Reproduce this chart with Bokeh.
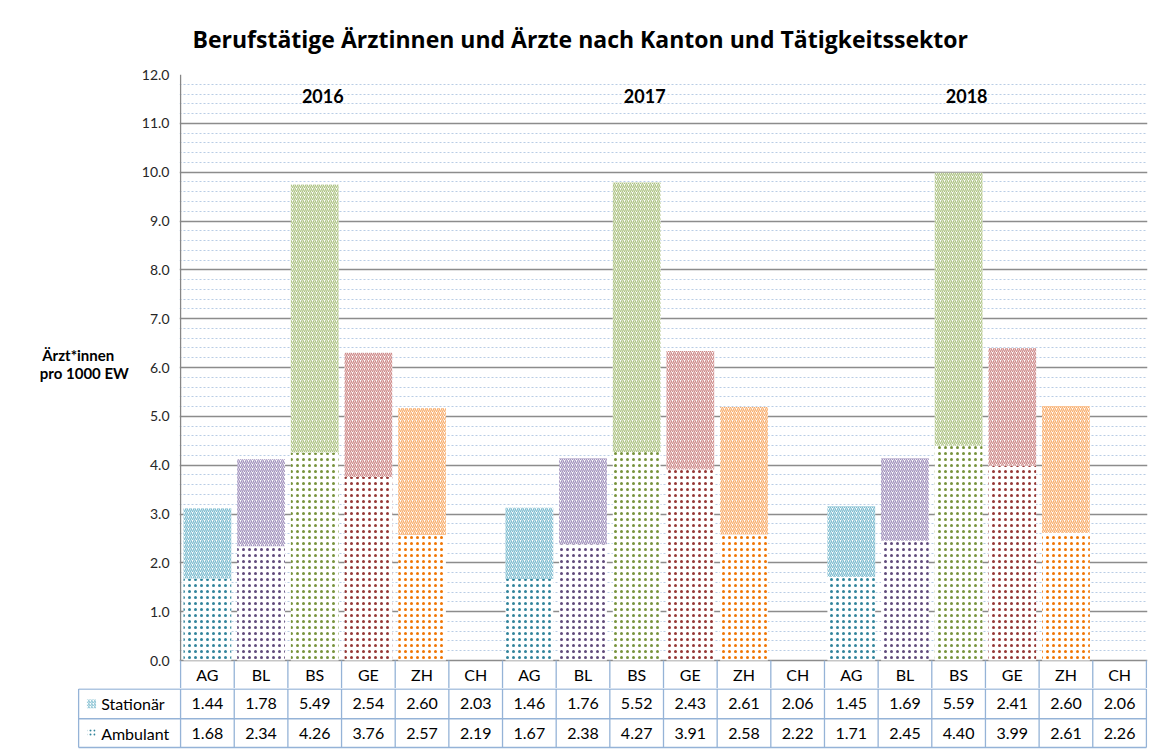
import numpy as np
from bokeh.plotting import figure
from bokeh.models import ColumnDataSource, Range1d, FixedTicker, NumeralTickFormatter
from bokeh.embed import file_html
from bokeh.resources import INLINE
from bokeh.core.properties import value

# ---------------- data ----------------
chart_title = "Berufstätige Ärztinnen und Ärzte nach Kanton und Tätigkeitssektor"
y_label_lines = ["Ärzt*innen", "pro 1000 EW"]
years = ["2016", "2017", "2018"]
cantons = ["AG", "BL", "BS", "GE", "ZH", "CH"]
series_names = ["Stationär", "Ambulant"]

stationaer_2016 = [1.44, 1.78, 5.49, 2.54, 2.60, 2.03]
stationaer_2017 = [1.46, 1.76, 5.52, 2.43, 2.61, 2.06]
stationaer_2018 = [1.45, 1.69, 5.59, 2.41, 2.60, 2.06]
ambulant_2016 = [1.68, 2.34, 4.26, 3.76, 2.57, 2.19]
ambulant_2017 = [1.67, 2.38, 4.27, 3.91, 2.58, 2.22]
ambulant_2018 = [1.71, 2.45, 4.40, 3.99, 2.61, 2.26]

y_ticks = list(range(0, 13))

# ---------------- styles ----------------
FONT = value("Lato")
dark_colors = ["#31849B", "#604A7B", "#77933C", "#953735", "#F07503", "#FFFFFF"]
light_colors = ["#7DBCCF", "#A293BD", "#AFC486", "#CE8A89", "#F8AE6E", "#FFFFFF"]
visible = [1, 1, 1, 1, 1, 0]
grid_blue = "#B9CDE5"
table_blue = "#95B3D7"
axis_gray = "#868686"

stationaer = [stationaer_2016, stationaer_2017, stationaer_2018]
ambulant = [ambulant_2016, ambulant_2017, ambulant_2018]

xs, amb, tot, dk, lt, al, sta, hdr = [], [], [], [], [], [], [], []
n_c = len(cantons)
for yi, yr in enumerate(years):
    for ci, c in enumerate(cantons):
        xs.append(yi * n_c + ci + 0.5)
        amb.append(ambulant[yi][ci])
        sta.append(stationaer[yi][ci])
        tot.append(ambulant[yi][ci] + stationaer[yi][ci])
        dk.append(dark_colors[ci])
        lt.append(light_colors[ci])
        al.append(visible[ci])
        hdr.append(c)
src = ColumnDataSource(dict(x=xs, amb=amb, tot=tot, sta=sta, dark=dk, light=lt, alpha=al))
n_cols = len(xs)

# ---------------- main chart (incl. header row of the data table) ----------------
W = 1154
hdr_depth = 0.573          # header row height below 0, in axis units
p = figure(width=W, height=688, x_range=Range1d(-0.02, n_cols + 0.02),
           y_range=Range1d(-hdr_depth, 12),
           x_axis_location=None, output_backend="svg", toolbar_location=None,
           min_border_left=179, min_border_right=7, min_border_top=74, min_border_bottom=0,
           outline_line_color=None, background_fill_color="white", border_fill_color="white")
p.title.text = chart_title
p.title.text_font = "Open Sans"
p.title.text_font_size = "23px"
p.title.text_font_style = "bold"
p.title.text_color = "black"
p.title.align = "left"
p.title.offset = 13
p.title.standoff = 40

p.xgrid.visible = False
minor = [round(i * 0.2, 1) for i in range(61) if i % 5 != 0]
p.yaxis.ticker = FixedTicker(ticks=y_ticks, minor_ticks=minor)
p.yaxis.formatter = NumeralTickFormatter(format="0.0")
p.yaxis.major_tick_out = 0
p.yaxis.major_tick_in = 0
p.yaxis.minor_tick_out = 0
p.yaxis.minor_tick_in = 0
p.yaxis.axis_line_color = None
p.yaxis.major_label_standoff = 10
p.yaxis.major_label_text_font = "Lato"
p.yaxis.major_label_text_font_size = "14px"
p.yaxis.major_label_text_color = "#262626"
# two centred lines; non-breaking spaces centre the shorter first line,
# the two blank lines lift the block to the reference position
p.yaxis.axis_label = (y_label_lines[0] + "\u00a0" * 4 + "\n" + y_label_lines[1]
                      + "\n\u00a0\n\u00a0")
p.yaxis.axis_label_orientation = "horizontal"
p.yaxis.axis_label_text_font = "Lato"
p.yaxis.axis_label_text_font_size = "15px"
p.yaxis.axis_label_text_font_style = "bold"
p.yaxis.axis_label_text_color = "black"
p.yaxis.axis_label_text_align = "center"
p.yaxis.axis_label_text_line_height = 1.0
p.yaxis.axis_label_standoff = 10
p.ygrid.grid_line_color = "#8C8C8C"
p.ygrid.grid_line_width = 1.6
p.ygrid.minor_grid_line_color = grid_blue
p.ygrid.minor_grid_line_width = 1
p.ygrid.minor_grid_line_dash = "2 2"

# y axis line
p.segment(x0=[0], y0=[0], x1=[0], y1=[12], line_color=axis_gray, line_width=1.3)

bar_w = 0.89
p.vbar(x="x", width=bar_w, bottom=0, top="amb", source=src,
       fill_color="white", fill_alpha="alpha", line_color=None,
       hatch_pattern="dot", hatch_color="dark", hatch_alpha="alpha",
       hatch_scale=6, hatch_weight=2.3)
p.vbar(x="x", width=bar_w, bottom="amb", top="tot", source=src,
       fill_color="white", fill_alpha="alpha", line_color=None,
       hatch_pattern="right_diagonal_line", hatch_color="light", hatch_alpha="alpha",
       hatch_scale=4, hatch_weight=1.3)

# year labels
year_x = [yi * n_c + 2.65 for yi in range(len(years))]
p.text(x=year_x, y=[11.55] * len(years), text=years, text_font=FONT,
       text_font_style="bold", text_font_size="18px", text_align="center",
       text_baseline="middle", text_color="black")

# header row of the table (canton names) under the axis
vx = list(range(0, n_cols + 1))
p.segment(x0=vx, y0=[-hdr_depth] * len(vx), x1=vx, y1=[0] * len(vx),
          line_color=table_blue, line_width=1.3)
p.text(x=xs, y=[-hdr_depth / 2] * n_cols, text=hdr, text_font=FONT,
       text_font_size="16px", text_align="center", text_baseline="middle", text_color="black")

# ---------------- data table rows ----------------
t = figure(width=W, height=61, x_range=Range1d(-1.9395, n_cols + 0.02), y_range=Range1d(-2, 59.5),
           x_axis_location=None, y_axis_location=None, output_backend="svg",
           toolbar_location=None, min_border_left=76, min_border_right=7,
           min_border_top=0, min_border_bottom=0, outline_line_color=None,
           border_fill_color="white")
t.grid.visible = False
row_top, mid, bot = 59, 29, 0
lab_x = -1.9
t.segment(x0=vx, y0=[bot] * len(vx), x1=vx, y1=[row_top] * len(vx),
          line_color=table_blue, line_width=1.3)
t.segment(x0=[lab_x], y0=[bot], x1=[lab_x], y1=[row_top],
          line_color=table_blue, line_width=1.3)
hy = [row_top, mid, bot]
t.segment(x0=[lab_x] * 3, y0=hy, x1=[n_cols] * 3, y1=hy,
          line_color=table_blue, line_width=1.3)

t.text(x=xs, y=[(row_top + mid) / 2] * n_cols, text=[f"{v:.2f}" for v in sta], text_font=FONT,
       text_font_size="16px", text_align="center", text_baseline="middle", text_color="black")
t.text(x=xs, y=[(mid + bot) / 2] * n_cols, text=[f"{v:.2f}" for v in amb], text_font=FONT,
       text_font_size="16px", text_align="center", text_baseline="middle", text_color="black")
t.text(x=[-1.48, -1.48], y=[(row_top + mid) / 2, (mid + bot) / 2], text=series_names,
       text_font=FONT, text_font_size="16px", text_align="left", text_baseline="middle",
       text_color="black")
# legend keys
t.rect(x=[-1.66], y=[(row_top + mid) / 2], width=0.17, height=9, fill_color="white",
       line_color=None, hatch_pattern="right_diagonal_line", hatch_color=light_colors[0],
       hatch_scale=3, hatch_weight=1)
t.rect(x=[-1.66], y=[(mid + bot) / 2], width=0.15, height=8, fill_color="white",
       line_color=None, hatch_pattern="dot", hatch_color=dark_colors[0],
       hatch_scale=4, hatch_weight=0.8)

open("out.html", "w").write(file_html([p, t], INLINE))
